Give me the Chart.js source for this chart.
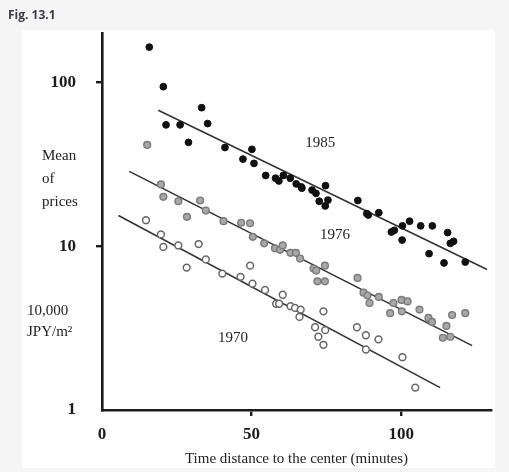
<!DOCTYPE html>
<html>
<head>
<meta charset="utf-8">
<script src="https://cdn.jsdelivr.net/npm/chart.js@4"></script>
<style>
  html, body { margin: 0; padding: 0; background: #f5f5f5; }
  #wrap { position: relative; width: 509px; height: 472px; }
  #fig { position: absolute; left: 8px; top: 6px; font: bold 12px "Open Sans", sans-serif; color: #3b3b45; }
</style>
</head>
<body>
<div id="wrap">
  <canvas id="chart" width="509" height="472"></canvas>
  <div id="fig">Fig. 13.1</div>
</div>
<script>
// Time distance (minutes) / mean price (10,000 JPY per m2)
const min1985 = [15.8, 20.5, 21.4, 26.1, 33.3, 35.3, 28.9, 41.1, 47.1, 50.1, 50.8, 54.7, 58.0, 59.1, 60.6, 62.9, 64.9, 66.6, 66.8, 70.2, 71.5, 74.7, 72.6, 74.6, 75.5, 85.5, 88.5, 89.0, 92.5, 96.7, 97.7, 100.4, 102.8, 100.3, 106.5, 110.4, 115.5, 116.4, 117.5, 109.3, 114.3, 121.4]
const price1985 = [164, 94, 55, 55, 70, 56, 43, 40, 34, 39, 32, 27, 26, 25, 27, 26, 24, 23, 22.6, 22, 21, 23.4, 18.8, 17.6, 19.1, 19, 15.8, 15.5, 16, 12.2, 12.5, 13.3, 14.2, 10.9, 13.3, 13.3, 12.1, 10.4, 10.7, 9, 7.9, 8]

const min1976 = [15.1, 19.7, 20.5, 25.5, 32.8, 34.7, 28.4, 40.6, 46.5, 49.5, 50.4, 54.2, 57.8, 59.5, 60.4, 63.0, 64.8, 66.2, 70.7, 71.6, 74.5, 72.0, 74.5, 85.4, 87.4, 88.7, 89.4, 92.5, 96.3, 97.4, 100.1, 102.1, 100.2, 106.1, 109.1, 110.3, 115.1, 113.9, 116.4, 117.0, 121.4]
const price1976 = [41.5, 23.8, 20, 18.8, 19, 16.5, 15.1, 14.2, 13.9, 13.8, 11.4, 10.4, 9.7, 9.5, 10.1, 9.1, 9.1, 8.4, 7.3, 7.1, 7.6, 6.1, 6.1, 6.4, 5.2, 5.0, 4.5, 4.9, 3.9, 4.5, 4.7, 4.6, 4.0, 4.1, 3.65, 3.45, 3.26, 2.76, 2.8, 3.8, 3.9]

const min1970 = [14.7, 19.7, 20.5, 25.5, 32.3, 28.3, 34.7, 40.2, 46.3, 49.5, 50.3, 54.5, 60.4, 58.2, 59.2, 63.0, 64.5, 66.4, 66.0, 71.2, 72.3, 74.0, 74.6, 74.0, 85.2, 88.2, 92.4, 88.2, 100.4, 104.7]
const price1970 = [14.4, 11.8, 9.9, 10.1, 10.3, 7.4, 8.3, 6.8, 6.5, 7.6, 5.9, 5.4, 5.05, 4.45, 4.45, 4.3, 4.2, 4.1, 3.7, 3.2, 2.8, 2.5, 3.07, 4.0, 3.2, 2.86, 2.7, 2.34, 2.1, 1.37]

// fitted lines (start / end)
const lineMin1985 = [18.8, 128.7]
const linePrice1985 = [67.6, 7.2]
const lineMin1976 = [9.1, 123.7]
const linePrice1976 = [28.6, 2.47]
const lineMin1970 = [5.5, 113.0]
const linePrice1970 = [15.4, 1.37]

const xTicks = [0, 50, 100]
const yTicks = [1, 10, 100]

// text labels inside the plot: [text, minutes, price]
const seriesLabels = [["1985", 72.9, 42.5], ["1976", 77.9, 11.7], ["1970", 43.8, 2.75]]

const pts = (xs, ys) => xs.map((x, i) => ({ x: x, y: ys[i] }))

const serif = "'Liberation Serif', 'Times New Roman', serif"

// page panel + free text
const decor = {
  id: "decor",
  beforeDraw(chart) {
    const c = chart.ctx
    c.save()
    c.fillStyle = "#fff"
    c.fillRect(22, 30, 473, 438)
    c.restore()
  },
  afterDraw(chart) {
    const c = chart.ctx
    const xs = chart.scales.x, ys = chart.scales.y
    c.save()
    c.fillStyle = "#222"
    c.font = "15px " + serif
    c.textAlign = "center"
    c.textBaseline = "middle"
    seriesLabels.forEach(l => {
      c.fillText(l[0], xs.getPixelForValue(l[1]), ys.getPixelForValue(l[2]))
    })
    c.textAlign = "left"
    c.fillText("Mean", 42, 156)
    c.fillText("of", 42, 179)
    c.fillText("prices", 42, 202)
    c.fillText("10,000", 27, 311)
    c.fillText("JPY/m²", 27, 332)
    c.restore()
  }
}

const tickColor = (ctx) => (ctx.tick && (ctx.tick.value === 1 || ctx.tick.value === 0)) ? "rgba(0,0,0,0)" : "#1c1c1c"

new Chart(document.querySelector("#chart").getContext("2d"), {
  type: "scatter",
  data: {
    datasets: [
      {
        label: "1985",
        data: pts(min1985, price1985),
        pointRadius: 3.4,
        backgroundColor: "#111",
        borderColor: "#111",
        borderWidth: 1
      },
      {
        label: "1976",
        data: pts(min1976, price1976),
        pointRadius: 3.4,
        backgroundColor: "#a8a8a8",
        borderColor: "#7a7a7a",
        borderWidth: 1.4
      },
      {
        label: "1970",
        data: pts(min1970, price1970),
        pointRadius: 3.4,
        backgroundColor: "#fff",
        borderColor: "#666",
        borderWidth: 1.5
      },
      {
        data: pts(lineMin1985, linePrice1985),
        showLine: true,
        pointRadius: 0,
        borderColor: "#333",
        borderWidth: 1.6
      },
      {
        data: pts(lineMin1976, linePrice1976),
        showLine: true,
        pointRadius: 0,
        borderColor: "#333",
        borderWidth: 1.6
      },
      {
        data: pts(lineMin1970, linePrice1970),
        showLine: true,
        pointRadius: 0,
        borderColor: "#333",
        borderWidth: 1.6
      }
    ]
  },
  options: {
    responsive: false,
    animation: false,
    layout: { padding: { left: 0, top: 33, right: 18, bottom: 0 } },
    plugins: {
      legend: { display: false },
      tooltip: { enabled: false }
    },
    scales: {
      x: {
        type: "linear",
        min: 0,
        max: 130,
        afterBuildTicks: (s) => { s.ticks = xTicks.map(v => ({ value: v })) },
        afterFit: (s) => { s.height = 62 },
        border: { display: true, width: 2.6, color: "#1c1c1c" },
        grid: { drawOnChartArea: false, drawTicks: true, tickLength: 6, lineWidth: 2.4, color: tickColor },
        ticks: {
          color: "#1c1c1c",
          padding: 8,
          maxRotation: 0,
          font: { family: serif, size: 17, weight: "bold" }
        },
        title: {
          display: true,
          text: "Time distance to the center (minutes)",
          color: "#222",
          padding: { top: 0, bottom: 4 },
          font: { family: serif, size: 15 }
        }
      },
      y: {
        type: "logarithmic",
        min: 1,
        max: 200,
        afterBuildTicks: (s) => { s.ticks = yTicks.map(v => ({ value: v })) },
        afterFit: (s) => { s.width = 102 },
        border: { display: true, width: 2.6, color: "#1c1c1c" },
        grid: { drawOnChartArea: false, drawTicks: true, tickLength: 6, lineWidth: 2.4, color: tickColor },
        ticks: {
          color: "#1c1c1c",
          padding: 20,
          font: { family: serif, size: 17, weight: "bold" },
          callback: (v) => String(v)
        }
      }
    }
  },
  plugins: [decor]
})
</script>
</body>
</html>
